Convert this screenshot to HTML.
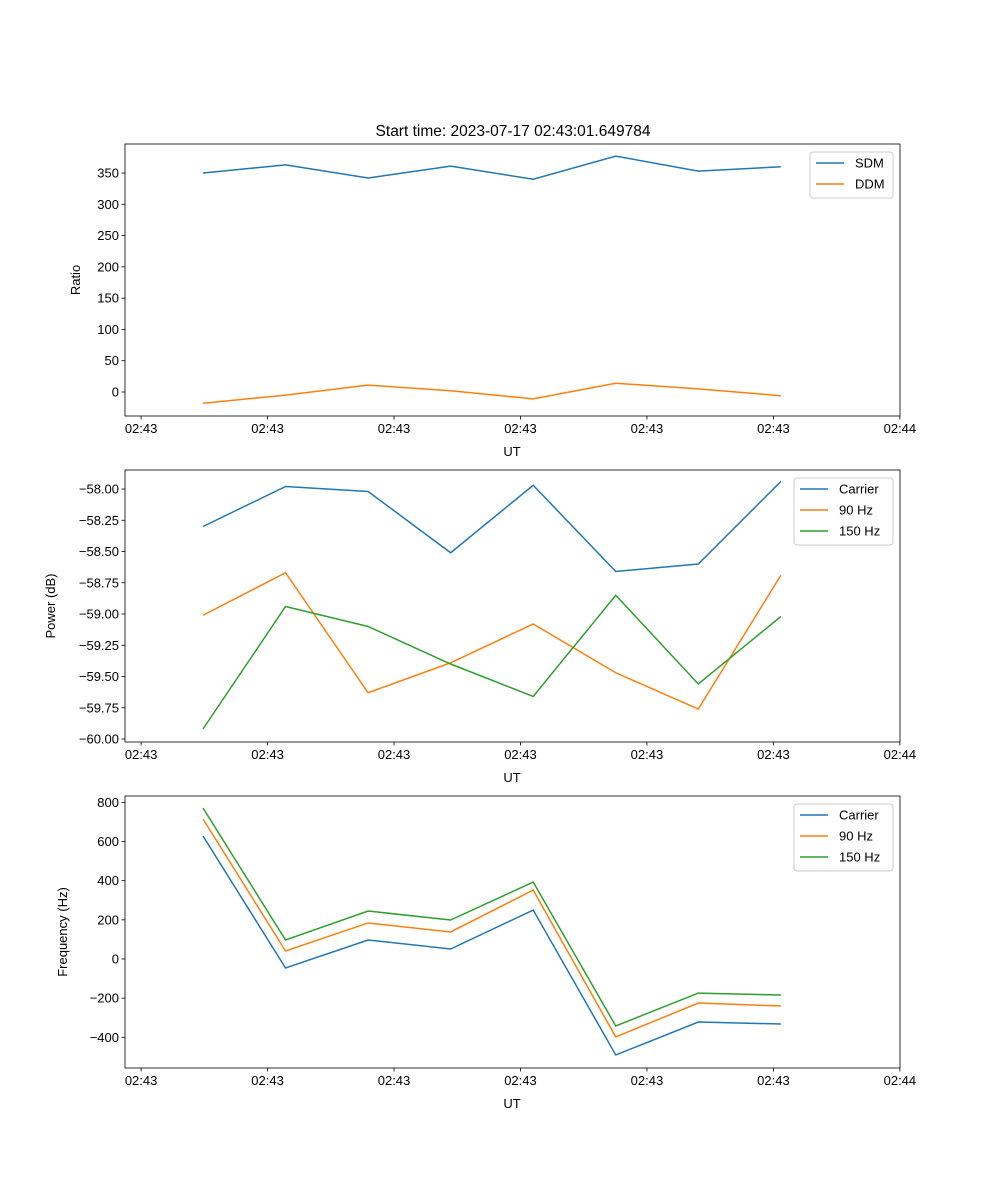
<!DOCTYPE html>
<html><head><meta charset="utf-8">
<style>body{margin:0;background:#fff}svg{display:block}text{font-family:"Liberation Sans","DejaVu Sans",sans-serif;font-size:13px;fill:#000}</style>
</head><body>
<svg id="fig" width="1000" height="1200" viewBox="0 0 1000 1200"></svg>
<script>
const categories = [0,1,2,3,4,5,6,7];
const xTickValues = [-0.75,0.782,2.314,3.846,5.378,6.91,8.442];
const xTickLabels = ["02:43","02:43","02:43","02:43","02:43","02:43","02:44"];
const sdm = [350,363,342,361,340,377,353,360];
const ddm = [-18,-5,11,2,-11,14,5,-6];
const powCarrier = [-58.30,-57.98,-58.02,-58.51,-57.97,-58.66,-58.60,-57.94];
const pow90 = [-59.01,-58.67,-59.63,-59.39,-59.08,-59.47,-59.76,-58.69];
const pow150 = [-59.92,-58.94,-59.10,-59.40,-59.66,-58.85,-59.56,-59.02];
const freqCarrier = [628,-46,97,51,250,-490,-322,-332];
const freq90 = [715,41,184,138,352,-398,-225,-240];
const freq150 = [771,97,245,199,393,-342,-174,-184];
const ratioTicks = [0,50,100,150,200,250,300,350];
const powerTicks = [-60,-59.75,-59.5,-59.25,-59,-58.75,-58.5,-58.25,-58];
const freqTicks = [-400,-200,0,200,400,600,800];

const NS="http://www.w3.org/2000/svg", svg=document.getElementById('fig');
function el(tag,attrs,parent){const e=document.createElementNS(NS,tag);for(const k in attrs)e.setAttribute(k,attrs[k]);(parent||svg).appendChild(e);return e;}
const L=125,R=900;
const xs=v=>203+v*82.55;
const colors=['#1f77b4','#ff7f0e','#2ca02c'];

function panel(name,top,bottom,yFn,yTicks,yFmt,ylabel,series,names,leg){
  const g=el('g',{});
  
  
  series.forEach((s,i)=>{
    const p=el('polyline',{points:s.map((v,j)=>xs(categories[j])+','+yFn(v)).join(' '),fill:'none',stroke:colors[i],'stroke-width':1.5},g);
    
    
  });
  const r=el('rect',{x:L,y:top,width:R-L,height:bottom-top,fill:'none',stroke:'#000','stroke-width':0.8},g);
  
  
  xTickValues.forEach((v,i)=>{
    const x=xs(v);
    el('line',{x1:x,x2:x,y1:bottom,y2:bottom+3.5,stroke:'#000','stroke-width':0.8},g);
    const t=el('text',{x:x,y:bottom+17,'text-anchor':'middle'},g);t.textContent=xTickLabels[i];
    
    
  });
  yTicks.forEach(v=>{
    const y=yFn(v);
    el('line',{x1:L-3.5,x2:L,y1:y,y2:y,stroke:'#000','stroke-width':0.8},g);
    const t=el('text',{x:L-6,y:y+4.5,'text-anchor':'end'},g);t.textContent=yFmt(v);
    
    
  });
  const xl=el('text',{x:512,y:bottom+40,'text-anchor':'middle'},g);xl.textContent='UT';
  
  
  const cy=(top+bottom)/2;
  const yl=el('text',{x:0,y:0,'text-anchor':'middle',transform:`translate(${leg.yl},${cy}) rotate(-90)`},g);yl.textContent=ylabel;
  
  
  const lg=el('g',{},g);
  
  
  el('rect',{x:leg.x,y:top+8,width:R-7-leg.x,height:names.length*21+4,rx:3,fill:'#fff','fill-opacity':0.8,stroke:'#ccc'},lg);
  names.forEach((n,i)=>{
    const y=top+19+i*21;
    el('line',{x1:leg.x+6,x2:leg.x+34,y1:y,y2:y,stroke:colors[i],'stroke-width':1.5},lg);
    const t=el('text',{x:leg.x+45,y:y+4.5},lg);t.textContent=n;
    
    
  });
}
const t=el('text',{x:513,y:136,'text-anchor':'middle',style:'font-size:15.5px'});t.textContent='Start time: 2023-07-17 02:43:01.649784';



panel('ratio-panel',144,416,v=>392-v*0.6257,ratioTicks,v=>String(v),'Ratio',[sdm,ddm],['SDM','DDM'],{x:810,yl:80});
panel('power-panel',470,742,v=>489-(v+58)*125,powerTicks,v=>'\u2212'+Math.abs(v).toFixed(2),'Power (dB)',[powCarrier,pow90,pow150],['Carrier','90 Hz','150 Hz'],{x:794,yl:55});
panel('frequency-panel',796,1068,v=>959-v*0.1958,freqTicks,v=>(v<0?'\u2212':'')+Math.abs(v),'Frequency (Hz)',[freqCarrier,freq90,freq150],['Carrier','90 Hz','150 Hz'],{x:794,yl:67});
</script>
</body></html>
